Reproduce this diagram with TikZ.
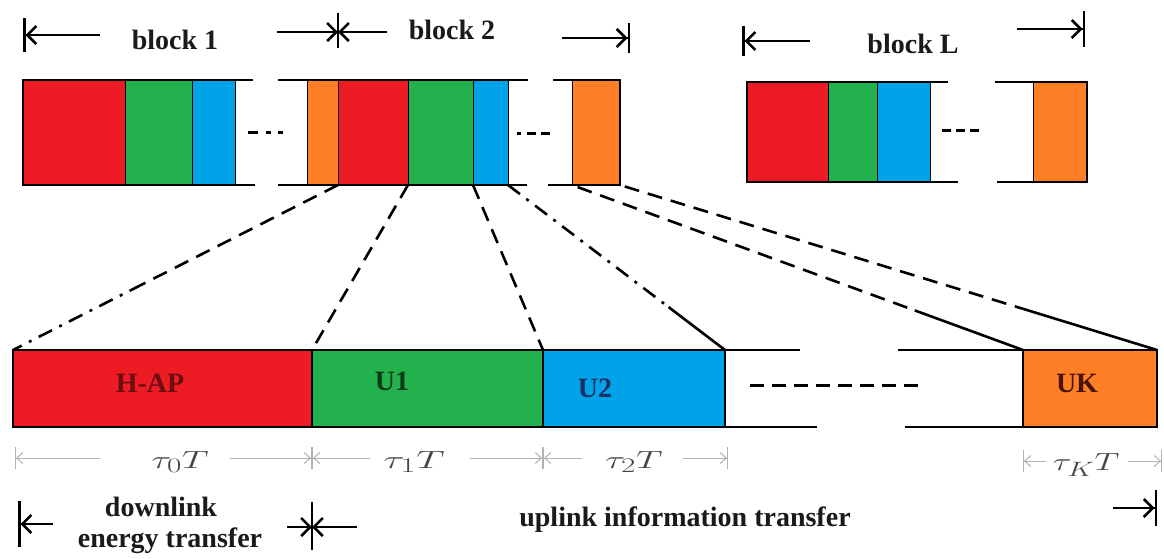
\documentclass[tikz,border=0pt]{standalone}
\usepackage{fontspec}
\setmainfont{Liberation Serif}
\usetikzlibrary{arrows.meta,calc}
\definecolor{cred}{HTML}{ED1C24}
\definecolor{cgreen}{HTML}{22B14C}
\definecolor{cblue}{HTML}{00A2E8}
\definecolor{corange}{HTML}{FF7F27}
\definecolor{hapc}{HTML}{6A0E10}
\definecolor{uonec}{HTML}{0F3A18}
\definecolor{utwoc}{HTML}{1B2F66}
\definecolor{ukc}{HTML}{4A140A}
\definecolor{txt}{HTML}{1A1A1A}
\begin{document}
\begin{tikzpicture}[x=1pt,y=-1pt,
  seg/.style={draw=black, line width=0.8pt, inner sep=0pt, outer sep=0pt, anchor=north west},
  tseg/.style={seg, minimum height=105pt},
  lseg/.style={seg, minimum height=100pt},
  bseg/.style={seg, minimum height=77pt},
  rail/.style={line width=2.5pt, line join=miter},
  bigarr/.style={line width=2.5pt},
  barstart/.style={{Bar[width=#1]Straight Barb[length=9pt,width=18pt]}-},
  barend/.style={-{Straight Barb[length=9pt,width=18pt]Bar[width=#1]}},
  barbend/.style={-{Straight Barb[length=9pt,width=18pt]}},
  dim/.style={draw=gray!60, line width=1pt},
  dimstart/.style={dim,{Bar[width=22pt]Straight Barb[length=6pt,width=11pt]}-},
  dimend/.style={dim,-{Straight Barb[length=6pt,width=11pt]Bar[width=22pt]}},
  lbl/.style={font=\bfseries\fontsize{28}{30}\selectfont, inner sep=0pt, text=txt},
  mlbl/.style={font=\fontsize{30}{34}\selectfont, inner sep=0pt, text=gray!55!black},
  conn/.style={line width=2.6pt, dash pattern=on 15pt off 9pt},
  conndd/.style={line width=2.6pt, dash pattern=on 15pt off 8pt on 3pt off 8pt},
  connsolid/.style={line width=2.6pt},
  gapdots/.style={line width=3pt}
]
\fill[white] (0,0) rectangle (1164,558);
\useasboundingbox (0,0) rectangle (1164,558);

% ---------- top arrows ----------
\coordinate (a1s) at (23,35);  \coordinate (a1e) at (100,35);
\draw[bigarr, barstart=34pt] (a1s) -- (a1e);
\node[lbl] (tb1) at (175,40) {block 1};
\coordinate (a2s) at (277,32); \coordinate (st1) at (338,32); \coordinate (a2e) at (387,32);
\coordinate (st1t) at (338,13); \coordinate (st1b) at (338,48);
\draw[bigarr, barbend] (a2s) -- (st1);
\draw[bigarr, barbend] (a2e) -- (st1);
\draw[bigarr] (st1t) -- (st1b);
\node[lbl] (tb2) at (452,30) {block 2};
\coordinate (a3s) at (562,38); \coordinate (a3e) at (630,38);
\draw[bigarr, barend=30pt] (a3s) -- (a3e);
\coordinate (a4s) at (742,41); \coordinate (a4e) at (810,41);
\draw[bigarr, barstart=30pt] (a4s) -- (a4e);
\node[lbl] (tbl) at (913,44) {block L};
\coordinate (a5s) at (1017,29); \coordinate (a5e) at (1085,29);
\draw[bigarr, barend=36pt] (a5s) -- (a5e);

% ---------- block 1 ----------
\node[tseg, fill=cred, minimum width=102pt] (b1r) at (23,80) {};
\node[tseg, fill=cgreen, minimum width=67pt] (b1g) at (125,80) {};
\node[tseg, fill=cblue, minimum width=43pt] (b1b) at (192,80) {};
\coordinate (b1t) at (253,80); \coordinate (b1bt) at (255,185);
\draw[rail] (b1t) -- (b1r.north west) -- (b1r.south west) -- (b1bt);
\coordinate (d1s) at (248,132); \coordinate (d1e) at (287,132);
\draw[gapdots, dash pattern=on 10pt off 8pt on 5pt off 7pt on 5pt off 10pt] (d1s) -- (d1e);

% ---------- block 2 ----------
\node[tseg, fill=corange, minimum width=31pt] (b2o) at (307,80) {};
\node[tseg, fill=cred, minimum width=70pt] (b2r) at (338,80) {};
\node[tseg, fill=cgreen, minimum width=65pt] (b2g) at (408,80) {};
\node[tseg, fill=cblue, minimum width=35pt] (b2b) at (473,80) {};
\coordinate (b2ls) at (278,80); \coordinate (b2le) at (528,80);
\coordinate (b2lbs) at (278,185); \coordinate (b2lbe) at (527,185);
\draw[rail] (b2ls) -- (b2le);
\draw[rail] (b2lbs) -- (b2lbe);
\coordinate (d2s) at (517,133); \coordinate (d2e) at (550,133);
\draw[gapdots, dash pattern=on 4pt off 6pt on 9pt off 5pt on 9pt off 10pt] (d2s) -- (d2e);
\node[tseg, fill=corange, minimum width=48pt] (b2k) at (572,80) {};
\coordinate (b2kt) at (553,80); \coordinate (b2kb) at (548,185);
\draw[rail] (b2kt) -- (b2k.north east) -- (b2k.south east) -- (b2kb);

% ---------- block L ----------
\node[lseg, fill=cred, minimum width=81pt] (bLr) at (747,82) {};
\node[lseg, fill=cgreen, minimum width=49pt] (bLg) at (828,82) {};
\node[lseg, fill=cblue, minimum width=53pt] (bLb) at (877,82) {};
\coordinate (bLt) at (948,82); \coordinate (bLbt) at (958,182);
\draw[rail] (bLt) -- (bLr.north west) -- (bLr.south west) -- (bLbt);
\coordinate (d3s) at (942,130); \coordinate (d3e) at (980,130);
\draw[gapdots, dash pattern=on 9pt off 5pt] (d3s) -- (d3e);
\node[lseg, fill=corange, minimum width=54pt] (bLk) at (1033,82) {};
\coordinate (bLkt) at (995,82); \coordinate (bLkb) at (997,182);
\draw[rail] (bLkt) -- (bLk.north east) -- (bLk.south east) -- (bLkb);

% ---------- bottom (expanded) block ----------
\node[bseg, fill=cred, minimum width=299pt] (hap) at (13,350) {};
\node[bseg, fill=cgreen, minimum width=231pt] (bu1) at (312,350) {};
\node[bseg, fill=cblue, minimum width=182pt] (bu2) at (543,350) {};
\coordinate (brt) at (800,350); \coordinate (brb) at (817,427);
\draw[rail] (brt) -- (hap.north west) -- (hap.south west) -- (brb);
\coordinate (d4s) at (750,385); \coordinate (d4e) at (920,385);
\draw[gapdots, dash pattern=on 14pt off 8pt] (d4s) -- (d4e);
\node[bseg, fill=corange, minimum width=134pt] (buk) at (1023,350) {};
\coordinate (bkt) at (898,350); \coordinate (bkb) at (905,427);
\draw[rail] (bkt) -- (buk.north east) -- (buk.south east) -- (bkb);
\draw[line width=1.6pt] (bu1.north west) -- (bu1.south west);
\draw[line width=1.6pt] (bu2.north west) -- (bu2.south west);
\draw[line width=1.6pt] (bu2.north east) -- (bu2.south east);
\draw[line width=1.6pt] (buk.north west) -- (buk.south west);

\node[lbl, text=hapc] (lhap) at (150,383) {H-AP};
\node[lbl, text=uonec] (lu1) at (392,381) {U1};
\node[lbl, text=utwoc] (lu2) at (595,388) {U2};
\node[lbl, text=ukc] (luk) at (1077,383) {UK};

% ---------- connectors ----------
\draw[conn] (b2r.south west) -- ($(b2r.south west)!0.6!(hap.north west)$) coordinate (c1m);
\draw[conndd] (c1m) -- (hap.north west);
\draw[conn] (b2g.south west) -- (bu1.north west);
\draw[conn] (b2b.south west) -- (bu2.north west);
\draw[conndd] (b2b.south east) -- ($(b2b.south east)!0.74!(bu2.north east)$) coordinate (c4m);
\draw[connsolid] (c4m) -- (bu2.north east);
\draw[conn, shorten <=6pt] (b2k.south west) -- ($(b2k.south west)!0.76!(buk.north west)$) coordinate (c5m);
\draw[connsolid] (c5m) -- (buk.north west);
\draw[conn, shorten <=5pt] (b2k.south east) -- ($(b2k.south east)!0.75!(buk.north east)$) coordinate (c6m);
\draw[connsolid] (c6m) -- (buk.north east);

% ---------- duration dimension lines ----------
\coordinate (t0s) at (15,458); \coordinate (t0a) at (100,458);
\coordinate (t0b) at (230,458); \coordinate (t0e) at (312,458);
\draw[dimstart] (t0s) -- (t0a);
\draw[dimend] (t0b) -- (t0e);
\node[mlbl] (lt0) at (180,462) {\scalebox{1.5}[1]{$\tau_0T$}};
\coordinate (t1s) at (312,458); \coordinate (t1a) at (370,458);
\coordinate (t1b) at (470,458); \coordinate (t1e) at (543,458);
\draw[dimstart] (t1s) -- (t1a);
\draw[dimend] (t1b) -- (t1e);
\node[mlbl] (lt1) at (414,462) {\scalebox{1.6}[1]{$\tau_1T$}};
\coordinate (t2s) at (543,458); \coordinate (t2a) at (582,458);
\coordinate (t2b) at (683,458); \coordinate (t2e) at (728,458);
\draw[dimstart] (t2s) -- (t2a);
\draw[dimend] (t2b) -- (t2e);
\node[mlbl] (lt2) at (634,462) {\scalebox{1.5}[1]{$\tau_2T$}};
\coordinate (tks) at (1023,461); \coordinate (tka) at (1046,461);
\coordinate (tkb) at (1128,461); \coordinate (tke) at (1162,461);
\draw[dimstart] (tks) -- (tka);
\draw[dimend] (tkb) -- (tke);
\node[mlbl] (ltk) at (1086,465) {\scalebox{1.4}[1]{$\tau_KT$}};

% ---------- bottom arrows and texts ----------
\coordinate (e1s) at (18,524); \coordinate (e1e) at (53,524);
\draw[bigarr, barstart=46pt] (e1s) -- (e1e);
\node[lbl] (ldl1) at (161,507) {downlink};
\node[lbl] (ldl2) at (170,541) {energy transfer};
\coordinate (e2s) at (287,527); \coordinate (st2) at (312,527); \coordinate (e2e) at (357,527);
\coordinate (st2t) at (312,502); \coordinate (st2b) at (312,550);
\draw[bigarr, barbend] (e2s) -- (st2);
\draw[bigarr, barbend] (e2e) -- (st2);
\draw[bigarr] (st2t) -- (st2b);
\node[lbl] (lup) at (685,520) {uplink information transfer};
\coordinate (e3s) at (1113,508); \coordinate (e3e) at (1157,508);
\draw[bigarr, barend=36pt] (e3s) -- (e3e);
\end{tikzpicture}
\end{document}
